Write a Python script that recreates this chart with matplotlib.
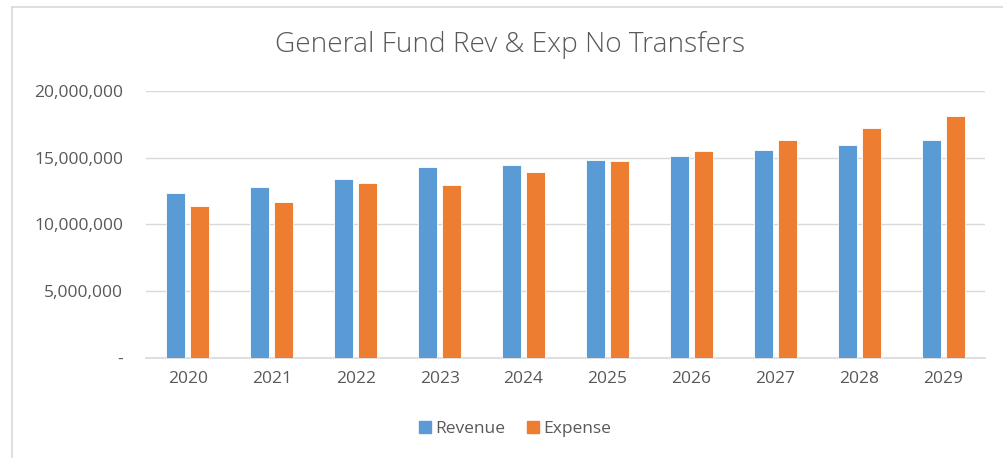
import matplotlib
matplotlib.use("Agg")
import matplotlib.pyplot as plt
import numpy as np
from matplotlib.ticker import FuncFormatter
from matplotlib.lines import Line2D

years = ["2020", "2021", "2022", "2023", "2024", "2025", "2026", "2027", "2028", "2029"]
revenue = [12330000, 12830000, 13400000, 14280000, 14470000, 14800000, 15150000, 15550000, 15950000, 16340000]
expense = [11380000, 11660000, 13080000, 12950000, 13900000, 14730000, 15520000, 16290000, 17190000, 18130000]
y_ticks = [0, 5000000, 10000000, 15000000, 20000000]

BLUE = "#5B9BD5"
ORANGE = "#ED7D31"
TXT = "#595959"
FONT = ["Open Sans", "DejaVu Sans"]

W, H = 1004, 458
fig = plt.figure(figsize=(W / 100, H / 100), dpi=100)
fig.patch.set_facecolor("white")

# axes placement in pixels
x0, x1 = 146, 985
y_top, y_bot = 90.7, 358.3
ax = fig.add_axes([x0 / W, 1 - y_bot / H, (x1 - x0) / W, (y_bot - y_top) / H])

x = np.arange(len(years))
bw = 0.226
off = 0.143
ax.bar(x - off, revenue, width=bw, color=BLUE, edgecolor="white", linewidth=0.6, label="Revenue", zorder=3)
ax.bar(x + off, expense, width=bw, color=ORANGE, edgecolor="white", linewidth=0.6, label="Expense", zorder=3)

ax.set_xlim(-0.5, len(years) - 0.5)
ax.set_ylim(0, 20000000)
ax.set_yticks(y_ticks)
ax.yaxis.set_major_formatter(FuncFormatter(lambda v, p: "-" if v == 0 else f"{int(v):,}"))
ax.set_xticks(x)
ax.set_xticklabels(years)

ax.grid(axis="y", color="#D9D9D9", linewidth=1.0, zorder=0)
for s in ["top", "right", "left"]:
    ax.spines[s].set_visible(False)
ax.spines["bottom"].set_color("#D9D9D9")
ax.spines["bottom"].set_linewidth(1.2)
ax.tick_params(axis="both", length=0, colors=TXT, labelsize=12.5)
ax.tick_params(axis="y", pad=16.5)
ax.tick_params(axis="x", pad=9.5)
for lab in ax.get_xticklabels() + ax.get_yticklabels():
    lab.set_family(FONT)
    lab.set_color(TXT)

fig.text(510 / W, 1 - 45 / H, "General Fund Rev & Exp No Transfers", ha="center", va="center",
         fontsize=20.2, color=TXT, family=FONT, fontweight="light")

handles = [Line2D([0], [0], marker="s", linestyle="none", markersize=8.5, markerfacecolor=BLUE, markeredgecolor=BLUE),
           Line2D([0], [0], marker="s", linestyle="none", markersize=8.5, markerfacecolor=ORANGE, markeredgecolor=ORANGE)]
leg = fig.legend(handles, ["Revenue", "Expense"], loc="center", bbox_to_anchor=(513 / W, 1 - 429 / H),
                 ncol=2, frameon=False, handletextpad=0.0, columnspacing=1.0, handlelength=1.2,
                 prop={"family": FONT, "size": 12.5})
for t in leg.get_texts():
    t.set_color(TXT)

# chart border (top and left edges visible)
fig.add_artist(Line2D([12 / W, 1.0], [1 - 7 / H, 1 - 7 / H], transform=fig.transFigure, color="#D9D9D9", linewidth=1.2))
fig.add_artist(Line2D([12 / W, 12 / W], [0, 1 - 7 / H], transform=fig.transFigure, color="#D9D9D9", linewidth=1.2))

fig.savefig("out.png", dpi=100, facecolor="white")
